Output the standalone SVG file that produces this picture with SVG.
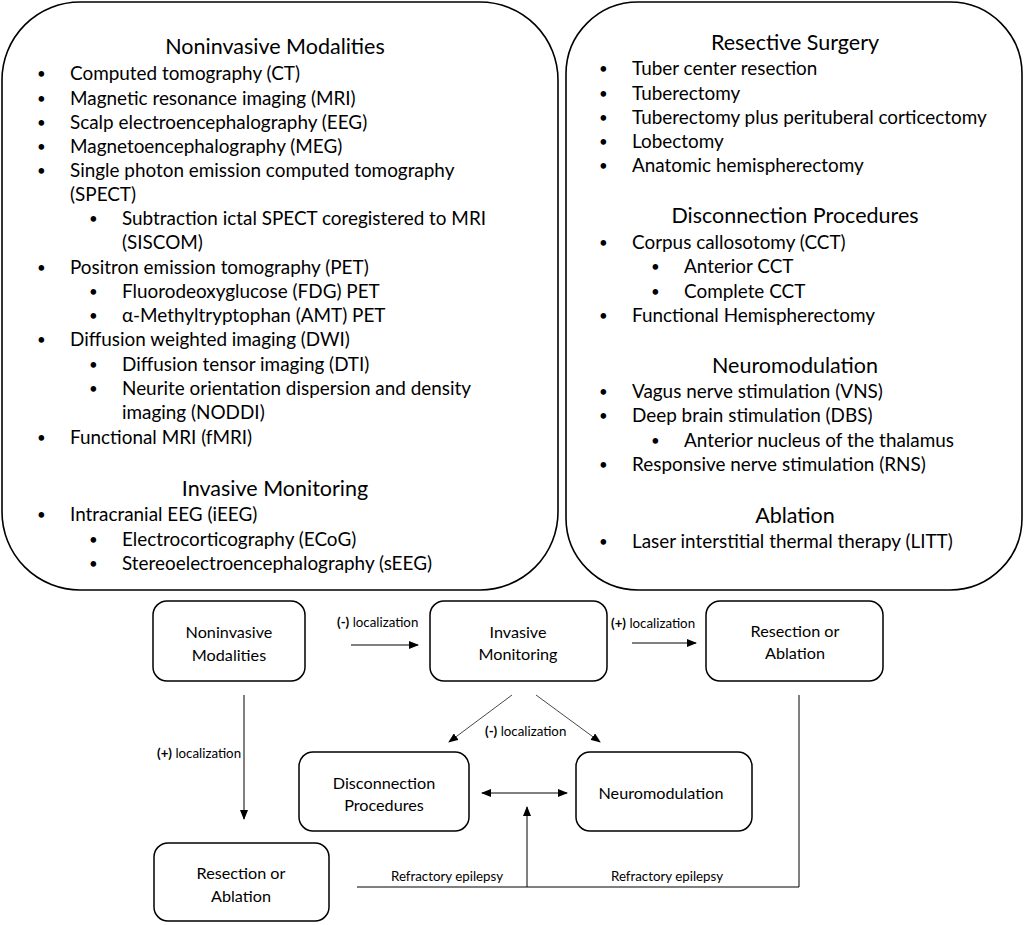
<svg xmlns="http://www.w3.org/2000/svg" width="1024" height="925" viewBox="0 0 1024 925">
<defs>
<style>
.big{fill:#fff;stroke:#000;stroke-width:1.6}
.box{fill:#fff;stroke:#000;stroke-width:1.5}
.t{font-family:Lato,"Liberation Sans",sans-serif;font-size:18.9px;fill:#000}
.t .d{font-size:15px}
.h{font-family:Lato,"Liberation Sans",sans-serif;font-size:21.5px;fill:#000;text-anchor:middle}
.n{font-family:Lato,"Liberation Sans",sans-serif;font-size:16.2px;fill:#000;text-anchor:middle}
.l{font-family:Lato,"Liberation Sans",sans-serif;font-size:13.3px;fill:#000}
.b{font-weight:bold}
.c{stroke:#000;stroke-width:1;fill:none}
.g{stroke:#333;stroke-width:0.9;fill:none}
</style>
<marker id="ah" markerWidth="10" markerHeight="8" refX="9" refY="4" orient="auto" markerUnits="userSpaceOnUse">
<path d="M0,0 L10,4 L0,8 Z" fill="#000"/>
</marker>
<marker id="as" markerWidth="10" markerHeight="8" refX="1" refY="4" orient="auto" markerUnits="userSpaceOnUse">
<path d="M10,0 L0,4 L10,8 Z" fill="#000"/>
</marker>
</defs>
<rect width="1024" height="925" fill="#fff"/>

<g id="panel-left">
<rect class="big" x="2" y="2" width="556" height="588" rx="78" ry="78"/>
<text class="h" x="275" y="54">Noninvasive Modalities</text>
<g class="t">
<text class="d" x="37" y="79">•</text><text x="70" y="80">Computed tomography (CT)</text>
<text class="d" x="37" y="104">•</text><text x="70" y="105">Magnetic resonance imaging (MRI)</text>
<text class="d" x="37" y="128">•</text><text x="70" y="129">Scalp electroencephalography (EEG)</text>
<text class="d" x="37" y="152">•</text><text x="70" y="153">Magnetoencephalography (MEG)</text>
<text class="d" x="37" y="176">•</text><text x="70" y="177">Single photon emission computed tomography</text>
<text x="70" y="201">(SPECT)</text>
<text class="d" x="89" y="224">•</text><text x="122" y="225">Subtraction ictal SPECT coregistered to MRI</text>
<text x="122" y="249">(SISCOM)</text>
<text class="d" x="37" y="273">•</text><text x="70" y="274">Positron emission tomography (PET)</text>
<text class="d" x="89" y="297">•</text><text x="122" y="298">Fluorodeoxyglucose (FDG) PET</text>
<text class="d" x="89" y="321">•</text><text x="122" y="322">α-Methyltryptophan (AMT) PET</text>
<text class="d" x="37" y="345">•</text><text x="70" y="346">Diffusion weighted imaging (DWI)</text>
<text class="d" x="89" y="370">•</text><text x="122" y="371">Diffusion tensor imaging (DTI)</text>
<text class="d" x="89" y="394">•</text><text x="122" y="395">Neurite orientation dispersion and density</text>
<text x="122" y="419">imaging (NODDI)</text>
<text class="d" x="37" y="443">•</text><text x="70" y="444">Functional MRI (fMRI)</text>
</g>
<text class="h" x="275" y="496">Invasive Monitoring</text>
<g class="t">
<text class="d" x="37" y="520">•</text><text x="70" y="521">Intracranial EEG (iEEG)</text>
<text class="d" x="89" y="545">•</text><text x="122" y="546">Electrocorticography (ECoG)</text>
<text class="d" x="89" y="569">•</text><text x="122" y="570">Stereoelectroencephalography (sEEG)</text>
</g>
</g>

<g id="panel-right">
<rect class="big" x="566" y="2" width="456" height="588" rx="72" ry="72"/>
<text class="h" x="795" y="50">Resective Surgery</text>
<g class="t">
<text class="d" x="599" y="74">•</text><text x="632" y="75">Tuber center resection</text>
<text class="d" x="599" y="99">•</text><text x="632" y="100">Tuberectomy</text>
<text class="d" x="599" y="123">•</text><text x="632" y="124">Tuberectomy plus perituberal corticectomy</text>
<text class="d" x="599" y="147">•</text><text x="632" y="148">Lobectomy</text>
<text class="d" x="599" y="171">•</text><text x="632" y="172">Anatomic hemispherectomy</text>
</g>
<text class="h" x="795" y="223">Disconnection Procedures</text>
<g class="t">
<text class="d" x="599" y="248">•</text><text x="632" y="249">Corpus callosotomy (CCT)</text>
<text class="d" x="651" y="272">•</text><text x="684" y="273">Anterior CCT</text>
<text class="d" x="651" y="297">•</text><text x="684" y="298">Complete CCT</text>
<text class="d" x="599" y="321">•</text><text x="632" y="322">Functional Hemispherectomy</text>
</g>
<text class="h" x="795" y="373">Neuromodulation</text>
<g class="t">
<text class="d" x="599" y="397">•</text><text x="632" y="398">Vagus nerve stimulation (VNS)</text>
<text class="d" x="599" y="421">•</text><text x="632" y="422">Deep brain stimulation (DBS)</text>
<text class="d" x="651" y="446">•</text><text x="684" y="447">Anterior nucleus of the thalamus</text>
<text class="d" x="599" y="470">•</text><text x="632" y="471">Responsive nerve stimulation (RNS)</text>
</g>
<text class="h" x="795" y="523">Ablation</text>
<g class="t">
<text class="d" x="599" y="547">•</text><text x="632" y="548">Laser interstitial thermal therapy (LITT)</text>
</g>
</g>

<g id="node-noninvasive">
<rect class="box" x="153" y="601" width="152" height="80" rx="14"/>
<text class="n" x="229" y="638">Noninvasive</text>
<text class="n" x="229" y="661">Modalities</text>
</g>
<g id="node-invasive">
<rect class="box" x="430" y="601" width="177" height="80" rx="14"/>
<text class="n" x="518" y="638">Invasive</text>
<text class="n" x="518" y="660">Monitoring</text>
</g>
<g id="node-resection-top">
<rect class="box" x="706" y="601" width="177" height="80" rx="14"/>
<text class="n" x="795" y="637">Resection or</text>
<text class="n" x="795" y="659">Ablation</text>
</g>
<g id="node-disconnection">
<rect class="box" x="299" y="752" width="170" height="79" rx="14"/>
<text class="n" x="384" y="789">Disconnection</text>
<text class="n" x="384" y="811">Procedures</text>
</g>
<g id="node-neuromodulation">
<rect class="box" x="576" y="752" width="176" height="79" rx="14"/>
<text class="n" x="661" y="799">Neuromodulation</text>
</g>
<g id="node-resection-bottom">
<rect class="box" x="154" y="843" width="175" height="78" rx="14"/>
<text class="n" x="241" y="879">Resection or</text>
<text class="n" x="241" y="902">Ablation</text>
</g>

<g id="connectors">
<line class="c" x1="351" y1="645" x2="418" y2="645" marker-end="url(#ah)"/>
<line class="c" x1="632" y1="643" x2="696" y2="643" marker-end="url(#ah)"/>
<line class="c" x1="244" y1="695" x2="244" y2="819" marker-end="url(#ah)"/>
<line class="g" x1="512" y1="695" x2="449" y2="742" marker-end="url(#ah)"/>
<line class="g" x1="536" y1="695" x2="600" y2="742" marker-end="url(#ah)"/>
<line class="c" x1="482" y1="793" x2="567" y2="793" marker-start="url(#as)" marker-end="url(#ah)"/>
<polyline class="c" points="357,887 799,887 799,695"/>
<line class="c" x1="527" y1="887" x2="527" y2="807" marker-end="url(#ah)"/>
<text class="l" x="337" y="627"><tspan class="b">(-)</tspan> localization</text>
<text class="l" x="611" y="628"><tspan class="b">(+)</tspan> localization</text>
<text class="l" x="157" y="758"><tspan class="b">(+)</tspan> localization</text>
<text class="l" x="485" y="736"><tspan class="b">(-)</tspan> localization</text>
<text class="l" x="391" y="881">Refractory epilepsy</text>
<text class="l" x="611" y="881">Refractory epilepsy</text>
</g>
</svg>
